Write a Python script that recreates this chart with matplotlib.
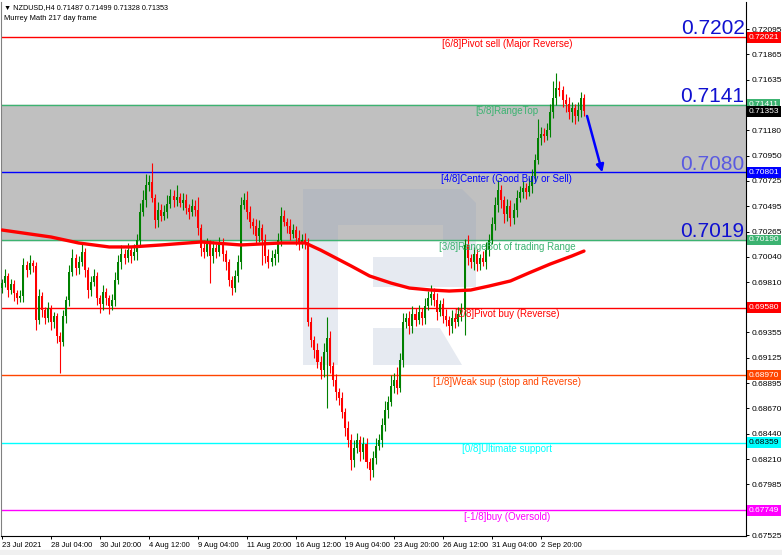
import matplotlib.pyplot as plt
from matplotlib.patches import Rectangle, Polygon
from matplotlib.transforms import blended_transform_factory, offset_copy

plt.rcParams['font.family'] = ['Liberation Sans', 'DejaVu Sans']

# --- candle data, NZDUSD H4, prices in 1e-5 units ---
first_open = 69760
closes = [
    69801, 69865, 69738, 69792, 69711, 69666, 69684, 69964, 69919, 69982,
    69955, 69467, 69684, 69558, 69485, 69576, 69449, 69504, 69323, 69269,
    69504, 69648, 69901, 70027, 69937, 69991, 70081, 69919, 69738, 69811,
    69865, 69666, 69612, 69720, 69666, 69594, 69648, 69829, 69991, 70063,
    70027, 70099, 70045, 70081, 70190, 70443, 70551, 70686, 70714, 70569,
    70370, 70461, 70407, 70443, 70515, 70587, 70551, 70578, 70524, 70551,
    70479, 70443, 70497, 70461, 70298, 70118, 70081, 70154, 70045, 70118,
    70081, 70154, 70063, 69991, 69829, 69756, 69865, 69991, 70506, 70551,
    70443, 70352, 70316, 70226, 70298, 70190, 70045, 69991, 70027, 70063,
    70190, 70407, 70352, 70316, 70244, 70280, 70208, 70154, 70190, 70172,
    69449, 69287, 69196, 69088, 69016, 69178, 69305, 69052, 68926, 68817,
    68763, 68637, 68492, 68384, 68203, 68312, 68384, 68275, 68348, 68185,
    68113, 68221, 68330, 68384, 68519, 68655, 68727, 68871, 68926, 68853,
    69106, 69449, 69485, 69413, 69522, 69467, 69540, 69485, 69594, 69666,
    69702, 69648, 69540, 69612, 69504, 69467, 69413, 69485, 69449, 69522,
    69558, 70145, 70027, 69991, 70063, 69973, 70027, 69991, 70099, 70190,
    70334, 70506, 70641, 70551, 70425, 70497, 70388, 70461, 70569, 70623,
    70659, 70623, 70677, 70768, 70912, 71111, 71147, 71129, 71183, 71346,
    71472, 71562, 71544, 71454, 71418, 71346, 71382, 71310, 71364, 71472,
    71353,
]
# wick lengths above / below the body
upper_wick = [
    40, 60, 30, 50, 40, 30, 50, 60, 40, 70,
    30, 40, 60, 40, 30, 50, 30, 40, 30, 40,
    50, 40, 60, 80, 40, 50, 70, 40, 30, 50,
    60, 40, 30, 60, 40, 30, 50, 70, 60, 80,
    50, 60, 40, 70, 50, 80, 90, 100, 60, 170,
    40, 70, 50, 60, 80, 60, 50, 110, 40, 60,
    50, 40, 60, 50, 120, 40, 70, 50, 40, 60,
    40, 60, 50, 40, 30, 40, 50, 60, 70, 60,
    80, 50, 40, 60, 70, 40, 50, 60, 70, 50,
    60, 80, 50, 40, 60, 50, 40, 70, 50, 60,
    40, 50, 40, 60, 50, 80, 190, 60, 40, 50,
    40, 50, 40, 60, 50, 70, 60, 40, 60, 50,
    40, 60, 70, 50, 60, 80, 50, 100, 60, 120,
    60, 80, 50, 60, 70, 50, 60, 40, 70, 60,
    80, 50, 60, 40, 50, 60, 40, 70, 50, 60,
    60, 50, 90, 40, 60, 50, 40, 60, 70, 50,
    60, 70, 90, 50, 40, 60, 50, 60, 70, 50,
    60, 50, 70, 60, 50, 170, 60, 50, 60, 70,
    150, 135, 60, 40, 50, 60, 50, 40, 70, 50,
    40,
]
lower_wick = [
    50, 40, 60, 40, 70, 50, 40, 50, 60, 40,
    50, 90, 40, 60, 50, 40, 70, 50, 60, 280,
    40, 60, 50, 40, 60, 50, 40, 60, 70, 50,
    40, 60, 80, 50, 60, 70, 40, 50, 40, 60,
    50, 40, 60, 40, 70, 50, 40, 60, 50, 40,
    70, 60, 50, 40, 50, 40, 60, 50, 40, 60,
    50, 60, 40, 50, 60, 70, 50, 40, 245, 60,
    50, 40, 60, 70, 50, 60, 40, 50, 60, 40,
    60, 50, 70, 60, 50, 230, 60, 50, 40, 60,
    70, 50, 40, 60, 50, 40, 60, 50, 40, 60,
    40, 60, 70, 50, 80, 60, 505, 60, 50, 70,
    60, 50, 70, 60, 90, 60, 50, 80, 60, 50,
    90, 60, 50, 40, 60, 50, 70, 40, 60, 50,
    40, 60, 50, 70, 60, 50, 40, 60, 50, 40,
    60, 50, 70, 40, 60, 50, 80, 60, 50, 40,
    60, 225, 60, 50, 70, 60, 50, 40, 60, 50,
    40, 50, 60, 70, 80, 60, 70, 50, 60, 40,
    50, 60, 40, 60, 50, 40, 60, 50, 40, 60,
    50, 60, 50, 60, 70, 60, 90, 70, 50, 60,
    40,
]

# moving average (thick red line), sampled bars
ma_bars = [0, 16, 25, 35, 42, 52, 65, 78, 91, 99, 104, 109, 114, 120, 127,
           133, 140, 146, 153, 159, 166, 172, 179, 186, 190]
ma_vals = [70280, 70217, 70163, 70127, 70127, 70145, 70172, 70145, 70163, 70163,
           70099, 70027, 69955, 69865, 69801, 69756, 69738, 69729, 69738, 69774,
           69820, 69892, 69973, 70045, 70090]

# Murrey math levels
level_prices = [0.72021, 0.71411, 0.70801, 0.70190, 0.69580, 0.68970, 0.68359, 0.67749]
level_names = ['[6/8]Pivot sell (Major Reverse)', '[5/8]RangeTop',
               '[4/8]Center (Good Buy or Sell)', '[3/8]RangeBot of trading Range',
               '[2/8]Pivot buy (Reverse)', '[1/8]Weak sup (stop and Reverse)',
               '[0/8]Ultimate support', '[-1/8]buy (Oversold)']
level_colors = ['#ff0000', '#3cb371', '#0000ff', '#3cb371',
                '#ff0000', '#ff4500', '#00ffff', '#ff00ff']
level_box_text = ['white', 'white', 'white', 'white', 'white', 'white', 'black', 'white']

big_labels = ['0.7202', '0.7141', '0.7080', '0.7019']
big_colors = ['#1010d0', '#1010d0', '#5a5ae0', '#1010d0']

last_price = 0.71353

x_tick_bars = [0, 16, 32, 48, 64, 80, 96, 112, 128, 144, 160, 176]
x_tick_labels = ['23 Jul 2021', '28 Jul 04:00', '30 Jul 20:00', '4 Aug 12:00',
                 '9 Aug 04:00', '11 Aug 20:00', '16 Aug 12:00', '19 Aug 04:00',
                 '23 Aug 20:00', '26 Aug 12:00', '31 Aug 04:00', '2 Sep 20:00']
y_ticks = [0.72095, 0.71865, 0.71635, 0.71180, 0.70950, 0.70725, 0.70495, 0.70265,
           0.70040, 0.69810, 0.69355, 0.69125, 0.68895, 0.68670, 0.68440, 0.68210,
           0.67985, 0.67525]

arrow_start = (191, 0.71310)
arrow_end = (196, 0.70801)

# --- figure ---
fig = plt.figure(figsize=(7.82, 5.55), dpi=100)
fig.patches.append(Rectangle((0, 0), 1, 5 / 555, transform=fig.transFigure,
                             color='#f0f0f0', zorder=0))
ax = fig.add_axes([1 / 782, 19 / 555, 745 / 782, 534 / 555])
ax.set_xlim(-0.33, 242.9)
ax.set_ylim(0.67517, 0.72339)

# grey trading range
ax.axhspan(level_prices[3], level_prices[1], color='#c0c0c0', zorder=0)

# watermark logo, drawn in axes pixel units
def px(x, y):
    return ((x - 1) / 745, (536 - y) / 534)

wm = dict(facecolor='#8ea2c0', alpha=0.22, edgecolor='none', zorder=1,
          transform=ax.transAxes)
for poly in [
    [(303, 189), (338, 189), (338, 365), (303, 365)],
    [(338, 189), (462, 189), (476, 203), (476, 287), (373, 287),
     (373, 257), (443, 257), (443, 225), (338, 225)],
    [(373, 328), (440, 328), (462, 365), (373, 365)],
]:
    ax.add_patch(Polygon([px(a, b) for a, b in poly], closed=True, **wm))

# candles
opens = [first_open] + closes[:-1]
for i, (o, c, uw, lw) in enumerate(zip(opens, closes, upper_wick, lower_wick)):
    col = '#008000' if c >= o else '#ff0000'
    top, bot = max(o, c), min(o, c)
    ax.vlines(i, (bot - lw) / 1e5, (top + uw) / 1e5, color=col, lw=0.8, zorder=3)
    ax.bar(i, max(top - bot, 8) / 1e5, bottom=bot / 1e5, width=0.66,
           color=col, linewidth=0, zorder=3)

# moving average
ax.plot(ma_bars, [v / 1e5 for v in ma_vals], color='#ff0000', lw=2.4,
        solid_capstyle='round', zorder=4)

blend = blended_transform_factory(ax.transAxes, ax.transData)
box_tr = offset_copy(blend, fig=fig, x=2.5, units='dots')

# levels
for p, name, col, tcol in zip(level_prices, level_names, level_colors, level_box_text):
    ax.axhline(p, color=col, lw=1.0, zorder=2)
    ax.annotate(name, xy=(0.679, p), xycoords=blend, xytext=(0, -1.2),
                textcoords='offset points', ha='center', va='top',
                fontsize=7, color=col, zorder=5)
    ax.text(1.0, p, '%.5f' % p, transform=box_tr, ha='left', va='center',
            fontsize=6, color=tcol, clip_on=False, zorder=6,
            bbox=dict(boxstyle='square,pad=0.22', fc=col, ec='none'))

ax.text(1.0, last_price, '%.5f' % last_price, transform=box_tr, ha='left',
        va='center', fontsize=6, color='white', clip_on=False, zorder=6,
        bbox=dict(boxstyle='square,pad=0.22', fc='black', ec='none'))

for txt, p, col in zip(big_labels, level_prices[:4], big_colors):
    ax.annotate(txt, xy=(0.998, p), xycoords=blend, xytext=(0, 2),
                textcoords='offset points', ha='right', va='baseline',
                fontsize=15, color=col, zorder=5)

ax.annotate('', xy=arrow_end, xytext=arrow_start,
            arrowprops=dict(arrowstyle='-|>', color='#0000ff', lw=1.8,
                            mutation_scale=11, shrinkA=0, shrinkB=0), zorder=6)

# axes styling
ax.yaxis.tick_right()
ax.set_yticks(y_ticks)
ax.set_yticklabels(['%.5f' % v for v in y_ticks])
ax.set_xticks(x_tick_bars)
ax.set_xticklabels(x_tick_labels, ha='left')
ax.tick_params(axis='y', labelsize=6, length=2.5, pad=1.5, width=0.7)
ax.tick_params(axis='x', labelsize=5.5, length=2.5, pad=1.5, width=0.7)
ax.spines['top'].set_visible(False)
ax.spines['left'].set_color('#808080')
ax.spines['left'].set_linewidth(0.8)
ax.spines['right'].set_linewidth(0.8)
ax.spines['bottom'].set_linewidth(0.8)

fig.text(4 / 782, 1 - 8 / 555, '\u25bc NZDUSD,H4 0.71487 0.71499 0.71328 0.71353',
         fontsize=5.2, va='center', ha='left')
fig.text(4 / 782, 1 - 19 / 555, 'Murrey Math 217 day frame',
         fontsize=5.4, va='center', ha='left')

fig.savefig('out.png', dpi=100)
